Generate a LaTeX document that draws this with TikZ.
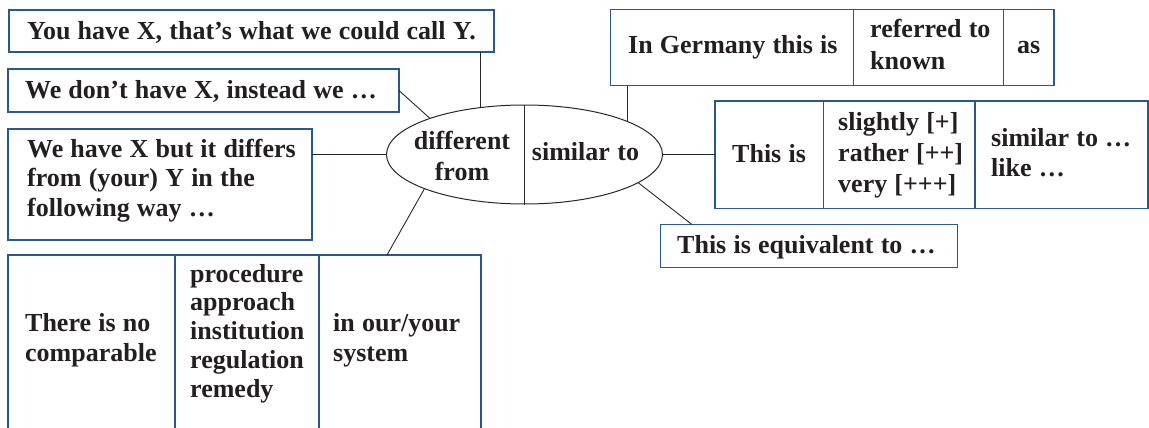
\documentclass[tikz,border=0pt]{standalone}
\usepackage{fontspec}
\setmainfont{Liberation Serif}
\usetikzlibrary{shapes.geometric}
\definecolor{boxblue}{RGB}{40,88,140}
\definecolor{ink}{RGB}{35,31,32}
\definecolor{linecol}{RGB}{40,40,40}
\newcommand{\bxfont}[1]{\fontsize{26}{#1}\selectfont\bfseries}
\begin{document}
\begin{tikzpicture}[x=1pt,y=-1pt,
  box/.style={draw=boxblue,line width=1.1pt,anchor=north west,inner sep=0pt,outer sep=0pt},
  txt/.style={anchor=base west,inner sep=0pt,align=left,text width=600pt,text=ink,
    font=\bxfont{29.5},execute at begin node={\frenchspacing\spaceskip=7.2pt plus 0.5pt minus 0.5pt\relax}},
  ctxt/.style={anchor=base,inner sep=0pt,align=center,text width=160pt,text=ink,
    execute at begin node={\frenchspacing\spaceskip=7.2pt plus 0.5pt minus 0.5pt\relax}},
  conn/.style={draw=linecol,line width=0.9pt}]
\useasboundingbox (0,0) rectangle (1149,428);
\clip (0,0) rectangle (1149,428);

% boxes
\node[box,minimum width=485pt,minimum height=42pt] (b1) at (9,10) {};
\node[box,minimum width=391pt,minimum height=43pt] (b2) at (8,69) {};
\node[box,minimum width=304pt,minimum height=111pt] (b3) at (8,129) {};
\node[box,minimum width=167pt,minimum height=200pt] (c1) at (8,255) {};
\node[box,minimum width=144pt,minimum height=200pt] (c2) at (175,255) {};
\node[box,minimum width=162pt,minimum height=200pt] (c3) at (319,255) {};
\node[box,minimum width=242.8pt,minimum height=76.4pt] (g1) at (610.7,9.3) {};
\node[box,minimum width=149.8pt,minimum height=76.4pt] (g2) at (853.5,9.3) {};
\node[box,minimum width=50.7pt,minimum height=76.4pt] (g3) at (1003.3,9.3) {};
\node[box,minimum width=108.5pt,minimum height=107.5pt] (s1) at (715,101) {};
\node[box,minimum width=151.5pt,minimum height=107.5pt] (s2) at (823.5,101) {};
\node[box,minimum width=173pt,minimum height=107.5pt] (s3) at (975,101) {};
\node[box,minimum width=296.6pt,minimum height=43.4pt] (e1) at (660.7,224.3) {};

% central ellipse
\node[draw=linecol,line width=1pt,ellipse,minimum width=276pt,minimum height=99pt,inner sep=0pt] (ell) at (524.5,154.5) {};
\draw[conn] (ell.north) -- (ell.south);

% texts
\node[txt] (t1) at (27,40) {You have X, that’s what we could call Y.};
\node[txt] (t2) at (25,99) {We don’t have X, instead we …};
\node[txt] (t3) at (27,157) {We have X but it differs\\from (your) Y in the\\following way …};
\node[txt,font=\bxfont{30}] (t4) at (25,331) {There is no\\comparable};
\node[txt,font=\bxfont{28.8}] (t5) at (190,282) {procedure\\approach\\institution\\regulation\\remedy};
\node[txt,font=\bxfont{30}] (t6) at (333,331) {in our/your\\system};
\node[ctxt,font=\bxfont{31}] (t7) at (462,149) {different\\from};
\node[ctxt,font=\bxfont{31}] (t8) at (585.5,160.5) {similar to};
\node[txt] (t9) at (628,54) {In Germany this is};
\node[txt,font=\bxfont{32}] (t10) at (870,37.5) {referred to\\known};
\node[txt] (t11) at (1017,54) {as};
\node[txt] (t12) at (732,162) {This is};
\node[txt,font=\bxfont{31}] (t13) at (838,130.5) {slightly [+]\\rather [++]\\very [+++]};
\node[txt,font=\bxfont{31}] (t14) at (991,146) {similar to …\\like …};
\node[txt] (t15) at (677,253) {This is equivalent to …};

% connectors
\coordinate (k4) at (387,255);
\coordinate (k7) at (691.7,224.3);
\draw[conn] (ell.133.5) -- (ell.133.5 |- b1.south);
\draw[conn] (b2.east) -- (ell.159.3);
\draw[conn] (ell.west -| b3.east) -- (ell.west);
\draw[conn] (ell.199.6) -- (k4);
\draw[conn] (ell.18.4) -- (ell.18.4 |- g1.south);
\draw[conn] (ell.east) -- (ell.east -| s1.west);
\draw[conn] (ell.-14.4) -- (k7);
\end{tikzpicture}
\end{document}
